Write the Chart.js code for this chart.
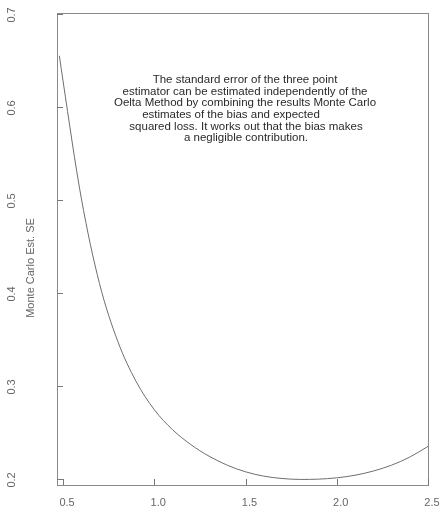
<!DOCTYPE html>
<html lang="en">
<head>
<meta charset="UTF-8">
<title>Monte Carlo Est. SE</title>
<script src="https://cdn.jsdelivr.net/npm/chart.js"></script>
<style>
    body { margin: 0; background: #fff; }
    #wrap { width: 440px; height: 512px; }
</style>
</head>
<body>
<div id="wrap"><canvas id="seChart" width="440" height="512"></canvas></div>
<script>
    // values
    const xs = [0.48, 0.5, 0.6, 0.7, 0.8, 0.9, 1.0, 1.1, 1.2, 1.3, 1.4, 1.5,
                1.6, 1.7, 1.8, 1.9, 2.0, 2.1, 2.2, 2.3, 2.4, 2.5];
    const ys = [0.655, 0.628, 0.502, 0.410, 0.348, 0.305, 0.2745, 0.253, 0.237, 0.2245, 0.2148, 0.2077,
                0.2030, 0.2005, 0.1995, 0.1998, 0.2012, 0.2040, 0.2085, 0.2148, 0.2235, 0.235];
    const xTicks = [0.5, 1.0, 1.5, 2.0, 2.5];
    const yTicks = [0.2, 0.3, 0.4, 0.5, 0.6, 0.7];
    const yTitle = 'Monte Carlo Est. SE';
    const note = [
        'The standard error of the three point',
        'estimator can be estimated independently of the',
        'Oelta Method by combining the results Monte Carlo',
        'estimates of the bias and expected',
        'squared loss. It works out that the bias makes',
        'a negligible contribution.'
    ];

    const points = xs.map((x, i) => ({ x: x, y: ys[i] }));

    // frame, inward ticks, rotated labels and the note
    const framePlugin = {
        id: 'frame',
        afterDraw(chart) {
            const ctx = chart.ctx;
            const a = chart.chartArea;
            const sx = chart.scales.x, sy = chart.scales.y;
            ctx.save();
            ctx.strokeStyle = '#8a8a8a';
            ctx.lineWidth = 1;
            ctx.strokeRect(a.left + 0.5, a.top + 0.5, a.right - a.left, a.bottom - a.top);

            ctx.strokeStyle = '#777';
            xTicks.forEach(v => {
                const px = Math.round(sx.getPixelForValue(v)) + 0.5;
                ctx.beginPath();
                ctx.moveTo(px, a.bottom);
                ctx.lineTo(px, a.bottom - 6);
                ctx.stroke();
            });
            yTicks.forEach(v => {
                const py = Math.round(sy.getPixelForValue(v)) + 0.5;
                ctx.beginPath();
                ctx.moveTo(a.left, py);
                ctx.lineTo(a.left + 6, py);
                ctx.stroke();
            });

            ctx.fillStyle = '#666';
            ctx.font = '11px "Liberation Sans", Arial, sans-serif';
            ctx.textAlign = 'center';
            ctx.textBaseline = 'middle';
            xTicks.forEach(v => {
                ctx.fillText(v.toFixed(1), sx.getPixelForValue(v) + 4, a.bottom + 18);
            });
            yTicks.forEach(v => {
                ctx.save();
                ctx.translate(12, sy.getPixelForValue(v) + 1);
                ctx.rotate(-Math.PI / 2);
                ctx.fillText(v.toFixed(1), 0, 0);
                ctx.restore();
            });
            ctx.save();
            ctx.translate(31, 268);
            ctx.rotate(-Math.PI / 2);
            ctx.fillText(yTitle, 0, 0);
            ctx.restore();

            ctx.fillStyle = '#2a2a2a';
            ctx.font = '11.5px "Liberation Sans", Arial, sans-serif';
            const centers = [245, 245, 245, 231, 246, 246];
            note.forEach((line, i) => {
                ctx.fillText(line, centers[i], 80 + i * 11.6);
            });
            ctx.restore();
        }
    };

    new Chart(document.getElementById('seChart').getContext('2d'), {
        type: 'line',
        data: {
            datasets: [{
                data: points,
                borderColor: '#6e6e6e',
                borderWidth: 1,
                pointRadius: 0,
                fill: false,
                cubicInterpolationMode: 'monotone'
            }]
        },
        options: {
            responsive: false,
            animation: false,
            layout: { padding: { left: 57, top: 13, right: 12, bottom: 27 } },
            scales: {
                x: { type: 'linear', min: 0.467, max: 2.5, display: false },
                y: { type: 'linear', min: 0.1935, max: 0.701, display: false }
            },
            plugins: {
                legend: { display: false },
                tooltip: { enabled: false }
            }
        },
        plugins: [framePlugin]
    });
</script>
</body>
</html>
